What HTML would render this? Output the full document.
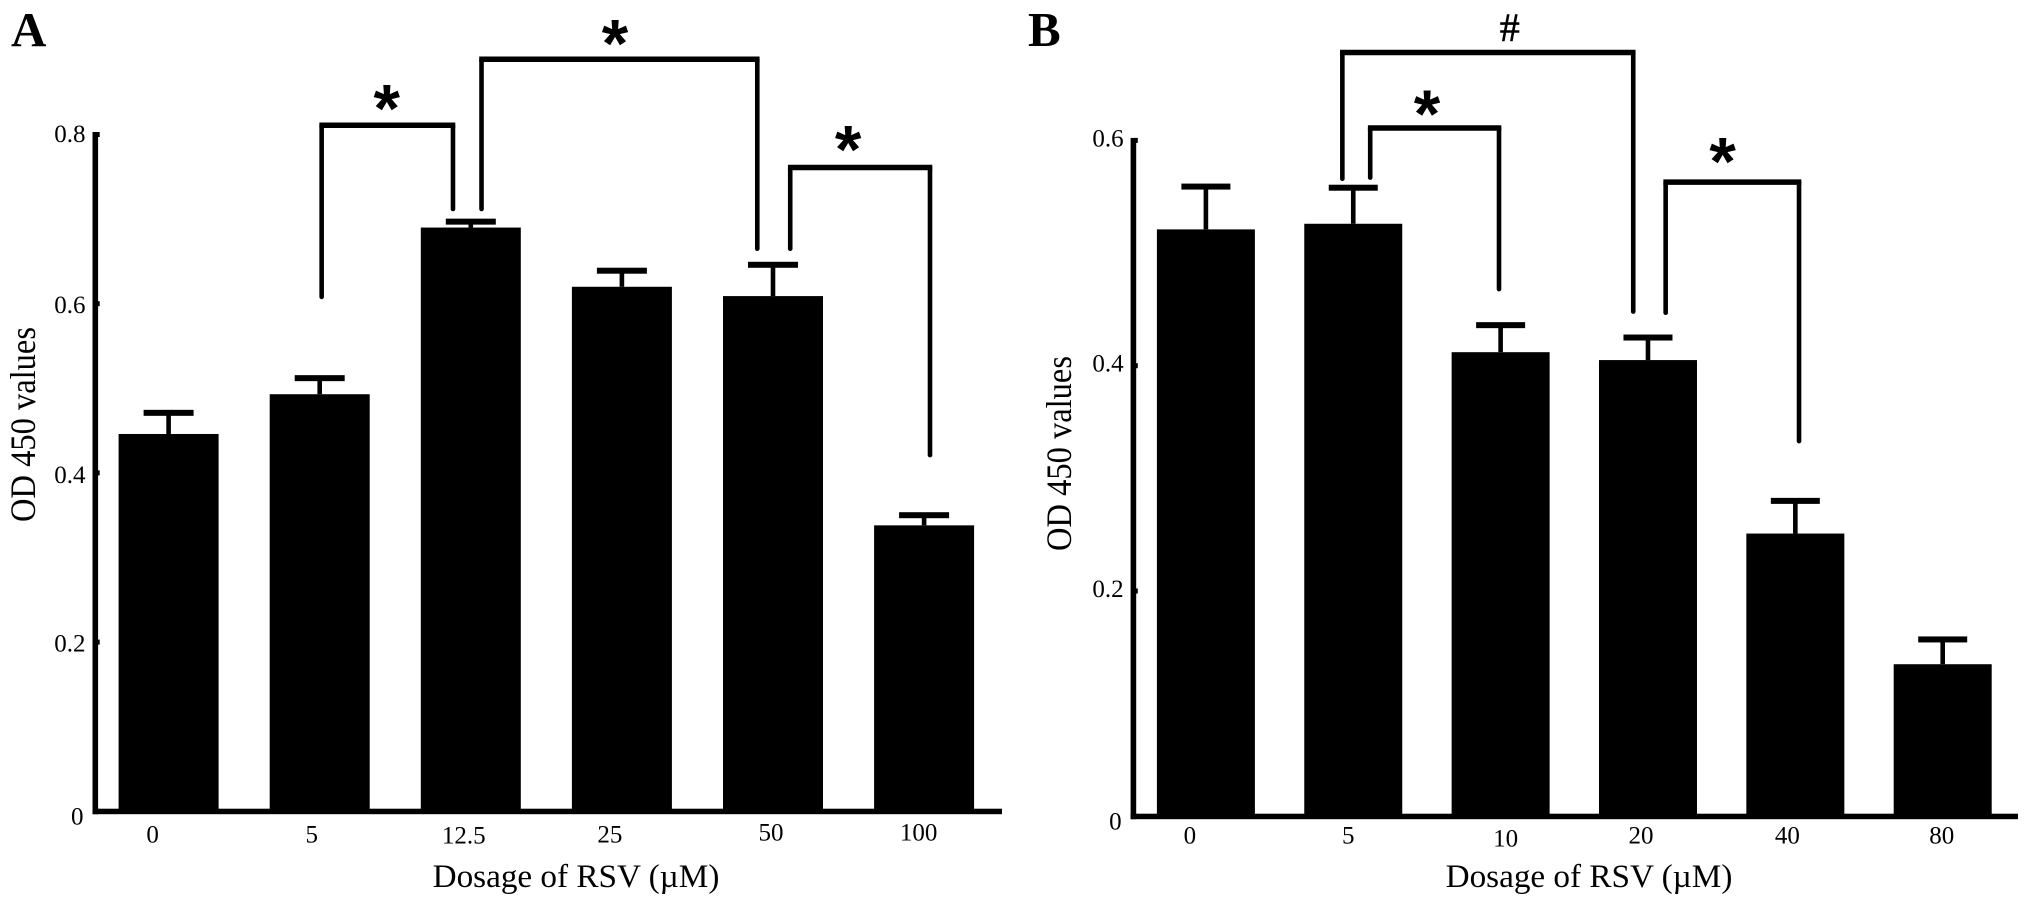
<!DOCTYPE html>
<html lang="en">
<head>
<meta charset="utf-8">
<title>OD 450 values by dosage of RSV</title>
<style>
  html, body { margin: 0; padding: 0; background: #fff; }
  body { width: 2031px; height: 906px; overflow: hidden; }
  svg { display: block; }
  text { font-family: "Liberation Serif", "Times New Roman", serif; fill: #000; }
</style>
</head>
<body>
<svg id="figure" xmlns="http://www.w3.org/2000/svg" width="2031" height="906" viewBox="0 0 2031 906">
  <rect x="0" y="0" width="2031" height="906" fill="#fff"/>
  <text x="11" y="46" font-size="49" font-weight="bold">A</text>
  <text x="1028" y="46" font-size="49" font-weight="bold">B</text>
</svg>
<script>
// ---------- Panel A data ----------
const categoriesA = ['0', '5', '12.5', '25', '50', '100'];
const valuesA = [0.446, 0.493, 0.690, 0.620, 0.609, 0.338];
const errorsA = [0.025, 0.019, 0.007, 0.019, 0.037, 0.012];
const yTicksA = [0, 0.2, 0.4, 0.6, 0.8];
const bracketFromA = [1.013, 2.071, 4.114];
const bracketToA = [1.882, 3.896, 5.039];
const bracketFromEndA = [0.608, 0.712, 0.665];
const bracketToEndA = [0.712, 0.665, 0.421];
const bracketTopA = [0.811, 0.889, 0.761];
const bracketMarksA = ['*', '*', '*'];

// ---------- Panel B data ----------
const categoriesB = ['0', '5', '10', '20', '40', '80'];
const valuesB = [0.521, 0.526, 0.412, 0.405, 0.251, 0.135];
const errorsB = [0.038, 0.032, 0.024, 0.020, 0.029, 0.022];
const yTicksB = [0, 0.2, 0.4, 0.6];
const bracketFromB = [0.926, 1.115, 3.12];
const bracketToB = [2.90, 1.989, 4.025];
const bracketFromEndB = [0.566, 0.567, 0.447];
const bracketToEndB = [0.448, 0.468, 0.333];
const bracketTopB = [0.678, 0.611, 0.563];
const bracketMarksB = ['#', '*', '*'];

// ---------- Layout only (separate from the data) ----------
const xLabelNudgeA = [[-16, 0], [-8, 0], [-7, 1], [-12, 0], [-2, -2], [-5.5, -2]];
const xLabelNudgeB = [[-16, 0], [-5, 0], [5, 3], [-7, 0], [-8, 0], [-1, 0]];
const yLabelNudgeA = [-2, -0.5, 0, -0.5, -2.5];
const yLabelNudgeB = [-1, 0, 0, 0];
const markNudgeA = [[-0.6, 6.5], [-4.4, 7.5], [-12, 5]];
const markNudgeB = [[22, -11.3], [-7.6, 9], [-9.7, 2.5]];

const SVG_NS = 'http://www.w3.org/2000/svg';
const svg = document.getElementById('figure');

function make(tag, parent, attrs, text) {
  const node = document.createElementNS(SVG_NS, tag);
  Object.keys(attrs).forEach(function (k) { node.setAttribute(k, attrs[k]); });
  if (text !== undefined) node.textContent = text;
  parent.appendChild(node);
  return node;
}

function drawPanel(p) {
  const xScale = function (i) { return p.firstCenter + i * p.pitch; };
  const yScale = function (v) { return p.zeroY - v * p.pxPerUnit; };
  const baseTop = p.zeroY - 2.6;
  const baseBottom = p.zeroY + 2.9;

  const panel = make('g', svg, {});
  
  

  // bars and error bars
  p.categories.forEach(function (cat, i) {
    const cx = xScale(i);
    const topY = yScale(p.values[i]);
    const capY = yScale(p.values[i] + p.errors[i]);

    const stem = make('line', panel, { x1: cx, x2: cx, y1: topY, y2: capY, stroke: '#000', 'stroke-width': 4.6 });
    
    

    const cap = make('rect', panel, { x: cx - p.capWidth / 2, y: capY - 3, width: p.capWidth, height: 6, fill: '#000' });
    
    

    const bar = make('rect', panel, { x: cx - p.barWidth / 2, y: topY, width: p.barWidth, height: p.zeroY - topY, fill: '#000' });
    
    

    const nudge = p.xLabelNudge[i];
    const xLabel = make('text', panel, { x: cx + nudge[0], y: p.xLabelY + nudge[1], 'font-size': 25, 'text-anchor': 'middle' }, cat);
    
    
  });

  // axes
  const yAxis = make('rect', panel, { x: p.axisX, y: yScale(p.yTicks[p.yTicks.length - 1]) - 2.5, width: 5.6, height: baseBottom - yScale(p.yTicks[p.yTicks.length - 1]) + 2.5, fill: '#000' });
  
  

  const xAxis = make('rect', panel, { x: p.axisX, y: baseTop, width: p.axisEnd - p.axisX, height: baseBottom - baseTop, fill: '#000' });
  
  

  p.yTicks.forEach(function (t, k) {
    const y = yScale(t);
    const tick = make('rect', panel, { x: p.axisX + 5, y: y - 2.5, width: 2.2, height: 5, fill: '#000' });
    
    

    const yLabel = make('text', panel, { x: p.axisX - 7, y: y + (t === 0 ? p.zeroLabelDy : p.tickLabelDy) + p.yLabelNudge[k], 'font-size': 25, 'text-anchor': 'end' }, String(t));
    if (t === 0) yLabel.setAttribute('x', p.axisX - 9);
    
    
  });

  // axis titles
  const xTitle = make('text', panel, { x: p.xTitleX, y: 887, 'font-size': 33.2, 'text-anchor': 'middle' }, 'Dosage of RSV (\u00B5M)');
  
  

  const yTitle = make('text', panel, { x: 0, y: 0, 'font-size': 32.5, 'text-anchor': 'middle', transform: 'translate(' + p.yTitleX + ' ' + p.yTitleY + ') rotate(-90) scale(1 1.1)' }, 'OD 450 values');
  
  

  // significance brackets
  p.bracketFrom.forEach(function (from, b) {
    const left = xScale(from);
    const right = xScale(p.bracketTo[b]);
    const topY = yScale(p.bracketTop[b]);
    const group = make('g', panel, {});
    
    

    const bridge = make('line', group, { x1: left - 2.3, x2: right + 2.3, y1: topY, y2: topY, stroke: '#000', 'stroke-width': 5.5 });
    
    

    const leftLeg = make('line', group, { x1: left, x2: left, y1: topY, y2: yScale(p.bracketFromEnd[b]), stroke: '#000', 'stroke-width': 4.6, 'stroke-linecap': 'round' });
    
    

    const rightLeg = make('line', group, { x1: right, x2: right, y1: topY, y2: yScale(p.bracketToEnd[b]), stroke: '#000', 'stroke-width': 4.6, 'stroke-linecap': 'round' });
    
    

    const mark = p.bracketMarks[b];
    const nudge = p.markNudge[b];
    const sign = make('text', group, {
      x: (left + right) / 2 + nudge[0],
      y: topY + nudge[1],
      'font-size': mark === '#' ? 40 : 68,
      'font-weight': mark === '#' ? 'normal' : 'bold',
      'text-anchor': 'middle',
      style: mark === '#' ? 'stroke:#000;stroke-width:0.6' : 'font-family:"Liberation Sans",sans-serif'
    }, mark);
    
    
  });
}

drawPanel({
  name: 'panel-a-chart', categories: categoriesA, values: valuesA, errors: errorsA, yTicks: yTicksA,
  bracketFrom: bracketFromA, bracketTo: bracketToA, bracketFromEnd: bracketFromEndA, bracketToEnd: bracketToEndA,
  bracketTop: bracketTopA, bracketMarks: bracketMarksA, xLabelNudge: xLabelNudgeA, yLabelNudge: yLabelNudgeA, markNudge: markNudgeA,
  firstCenter: 168.6, pitch: 151.1, barWidth: 100, capWidth: 50, zeroY: 811.3, pxPerUnit: 846,
  axisX: 92.5, axisEnd: 1002, xLabelY: 842.5, tickLabelDy: 10, zeroLabelDy: 15,
  xTitleX: 576, yTitleX: 35, yTitleY: 424.5
});

drawPanel({
  name: 'panel-b-chart', categories: categoriesB, values: valuesB, errors: errorsB, yTicks: yTicksB,
  bracketFrom: bracketFromB, bracketTo: bracketToB, bracketFromEnd: bracketFromEndB, bracketToEnd: bracketToEndB,
  bracketTop: bracketTopB, bracketMarks: bracketMarksB, xLabelNudge: xLabelNudgeB, yLabelNudge: yLabelNudgeB, markNudge: markNudgeB,
  firstCenter: 1205.9, pitch: 147.36, barWidth: 98, capWidth: 49, zeroY: 816.3, pxPerUnit: 1126.5,
  axisX: 1130.6, axisEnd: 2018, xLabelY: 843.5, tickLabelDy: 6, zeroLabelDy: 14,
  xTitleX: 1589, yTitleX: 1071, yTitleY: 453.5
});
</script>
</body>
</html>
